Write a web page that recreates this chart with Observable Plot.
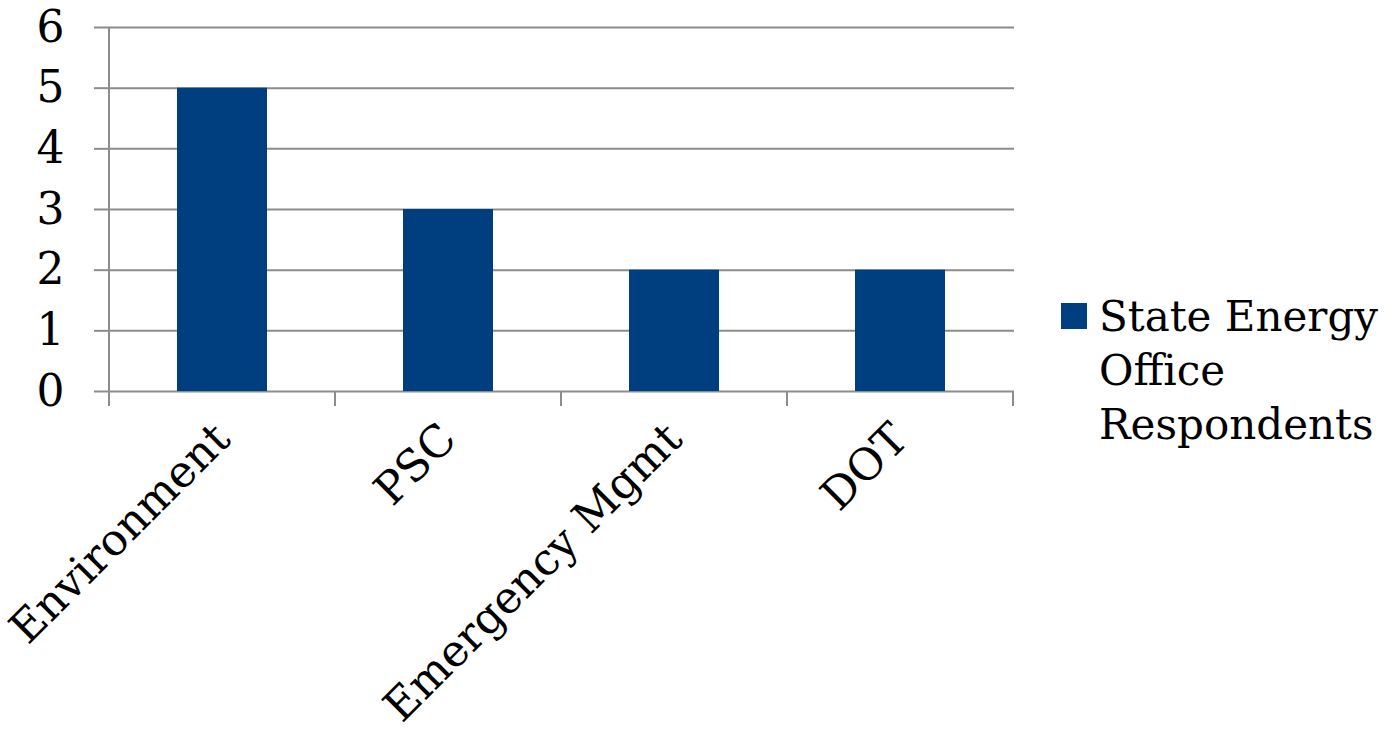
<!DOCTYPE html>
<html><head><meta charset="utf-8">
<script src="https://cdn.jsdelivr.net/npm/d3@7"></script>
<script src="https://cdn.jsdelivr.net/npm/@observablehq/plot@0.6"></script>
<style>
body{margin:0;background:#fff;}
#wrap{position:relative;width:1393px;height:731px;font-family:"DejaVu Serif",serif;overflow:hidden;}
#chart{position:absolute;left:0;top:0;}
#legend{position:absolute;left:1061px;top:290px;display:flex;align-items:flex-start;}
#legend .sw{width:26px;height:26px;margin-top:13px;margin-right:12px;flex:none;}
#legend .tx{font-size:42px;line-height:54px;color:#000;width:310px;}
</style></head><body>
<div id="wrap"><div id="chart"></div><div id="legend"><div class="sw"></div><div class="tx"></div></div></div>
<script>
const categories = ["Environment", "PSC", "Emergency Mgmt", "DOT"];
const values = [5, 3, 2, 2];
const seriesName = "State Energy Office Respondents";
const yTicks = [0, 1, 2, 3, 4, 5, 6];

const barColor = "#003f7f";
const gridColor = "#8c8c8c";
const data = categories.map((c, i) => ({category: c, value: values[i]}));

const plot = Plot.plot({
  width: 1040, height: 731,
  marginLeft: 108, marginRight: 26, marginTop: 27, marginBottom: 340,
  style: {fontFamily: "DejaVu Serif", fontSize: "44px", color: "#000", background: "white", overflow: "visible"},
  x: {domain: categories, paddingInner: 0.6, paddingOuter: 0.3, label: null},
  y: {domain: [0, 6], ticks: yTicks, label: null},
  marks: [
    Plot.gridY(yTicks, {stroke: gridColor, strokeOpacity: 1, strokeWidth: 2}),
    Plot.barY(data, {x: "category", y: "value", fill: barColor}),
    Plot.axisY(yTicks, {tickSize: 14, tickPadding: 30, tickFormat: "d", stroke: gridColor, strokeWidth: 2, strokeOpacity: 1, fill: "#000", fontSize: 44, label: null}),
    Plot.axisX({tickSize: 0, tickRotate: -45, tickPadding: 40, fill: "#000", fontSize: 44, label: null})
  ]
});
document.getElementById("chart").appendChild(plot);

// axis line and category boundary ticks using the plot's own scales
const xs = plot.scale("x"), ys = plot.scale("y");
const step = xs.step, bw = xs.bandwidth;
const y0 = ys.apply(0), yTop = ys.apply(6);
const bounds = categories.map(c => xs.apply(c) - (step - bw) / 2);
bounds.push(bounds[bounds.length - 1] + step);
const svg = d3.select(plot);
const g = svg.append("g").attr("stroke", gridColor).attr("stroke-width", 2);
g.append("line").attr("x1", bounds[0]).attr("x2", bounds[0]).attr("y1", yTop).attr("y2", y0 + 15);
bounds.forEach(b => g.append("line").attr("x1", b).attr("x2", b).attr("y1", y0).attr("y2", y0 + 15));

document.querySelector("#legend .sw").style.background = barColor;
document.querySelector("#legend .tx").textContent = seriesName;
</script>
</body></html>
